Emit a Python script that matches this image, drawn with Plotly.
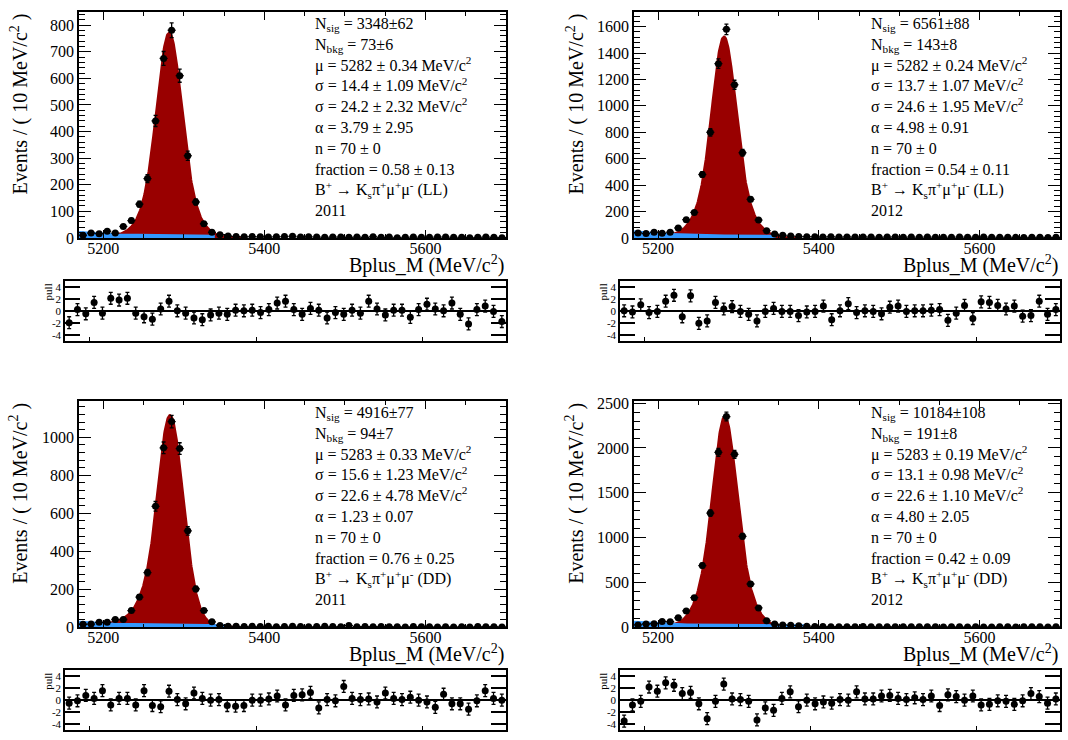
import numpy as np
import plotly.graph_objects as go

W, H = 1068, 740
FONT = "Liberation Serif"

# ---------------- data ----------------
bin_centers = np.arange(5175, 5700, 10)  # 53 bins of 10 MeV, 5170-5700

counts_ll_2011 = [10, 18, 16, 25, 18, 43, 65, 127, 223, 440, 675, 781, 610, 309, 135,
                  53, 21, 12, 7, 5, 4, 5, 4, 3, 4, 5, 6, 3, 4, 3, 2, 3, 3, 2, 3,
                  2, 4, 2, 3, 1, 2, 3, 2, 2, 3, 3, 2, 2, 1, 2, 3, 2, 1]
counts_ll_2012 = [38, 33, 43, 35, 43, 75, 138, 193, 480, 800, 1320, 1580, 1160, 645, 292,
                  135, 55, 30, 20, 14, 10, 9, 8, 7, 8, 6, 7, 6, 7, 6, 5, 6, 7, 5, 6,
                  5, 6, 5, 4, 5, 6, 5, 4, 6, 5, 4, 5, 4, 3, 4, 5, 3, 4]
counts_dd_2011 = [16, 17, 26, 26, 41, 41, 88, 159, 288, 637, 945, 1083, 941, 508, 202,
                  88, 29, 10, 6, 5, 4, 5, 4, 5, 3, 4, 5, 4, 3, 4, 5, 4, 3, 9, 3,
                  4, 3, 4, 3, 3, 2, 4, 3, 3, 2, 3, 2, 3, 2, 4, 3, 3, 2]
counts_dd_2012 = [26, 37, 40, 66, 62, 106, 183, 330, 688, 1274, 1951, 2350, 1929, 1014, 483,
                  216, 73, 37, 26, 22, 18, 12, 9, 8, 7, 6, 7, 6, 8, 6, 5, 6, 7, 6, 5,
                  6, 5, 6, 4, 6, 5, 4, 6, 4, 4, 5, 5, 4, 5, 6, 5, 4, 5]

pull_ll_2011 = [-2.0, 0.2, -0.5, 1.4, -0.4, 2.1, 1.8, 2.1, -0.4, -1.0, -1.4, 0.3, 1.6, 0.0, -0.4,
                -1.2, -1.5, -0.7, -0.4, -0.6, 0.1, 0.0, 0.1, -0.3, 0.2, 1.3, 1.6, 0.2, -0.6, 0.4,
                0.1, -1.2, -0.3, -0.6, 0.1, -0.4, 1.6, 0.3, -0.7, 0.1, 0.1, -1.1, 0.2, 1.1, 0.3,
                0.0, 1.3, -0.6, -2.2, 0.2, 0.8, -0.1, -1.8]
pull_ll_2012 = [0.0, -0.2, 1.0, -0.3, -0.1, 1.6, 2.6, -1.0, 2.5, -2.1, -1.7, 1.4, 0.3, 0.7, -0.1,
                -0.6, -1.7, -0.1, 0.4, -0.1, -0.1, -0.8, -0.2, -0.1, 0.8, -1.5, 0.0, 1.2, -0.3, 0.0,
                -0.1, -0.5, 0.6, 0.8, -0.1, 0.0, 0.0, 0.1, 0.2, -1.6, -0.4, 0.9, -1.3, 1.5, 1.4,
                0.9, 0.3, 0.8, -0.9, -0.8, 1.6, -0.6, 0.2]
pull_dd_2011 = [-0.5, -0.1, 0.8, 0.3, 1.6, -0.8, 0.3, 0.3, -0.8, 1.6, -0.9, -1.1, 1.5, 0.1, -0.6,
                1.2, 0.3, 0.0, 0.1, -0.9, -1.0, -0.9, 0.0, 0.0, 0.2, 0.7, -0.8, 0.8, 0.9, 1.3,
                -1.3, 0.1, -0.1, 2.3, 0.3, 0.1, 0.2, -0.3, 1.2, 0.3, 0.1, 0.5, 0.0, -0.3, -1.2,
                1.0, -0.6, -0.6, -1.5, -0.1, 1.6, 0.3, 0.0]
pull_dd_2012 = [-3.5, -0.8, -0.2, 2.2, 1.5, 2.9, 2.5, 1.1, 1.3, -0.6, -3.1, -0.2, 2.7, 0.2, 0.1,
                -0.2, -3.3, -1.3, -1.7, 0.3, 1.4, -1.1, 0.0, -0.6, -0.3, -0.5, 0.1, 0.0, 1.4, 0.2,
                0.2, 0.7, 0.8, 0.3, 0.1, 0.4, 0.1, 0.7, -0.9, 0.9, 0.6, 0.0, 0.7, -0.8, -0.7,
                -0.1, -0.2, -0.7, -0.1, 1.1, 0.6, -0.5, 0.2]

# fit parameters (from the legends)
n_sig = [3348, 6561, 4916, 10184]
n_sig_err = [62, 88, 77, 108]
n_bkg = [73, 143, 94, 191]
n_bkg_err = [6, 8, 7, 8]
mu = [5282, 5282, 5283, 5283]
mu_err = ["0.34", "0.24", "0.33", "0.19"]
sigma1 = [14.4, 13.7, 15.6, 13.1]
sigma1_err = ["1.09", "1.07", "1.23", "0.98"]
sigma2 = [24.2, 24.6, 22.6, 22.6]
sigma2_err = ["2.32", "1.95", "4.78", "1.10"]
alpha = [3.79, 4.98, 1.23, 4.80]
alpha_err = ["2.95", "0.91", "0.07", "2.05"]
n_cb = [70, 70, 70, 70]
fraction = [0.58, 0.54, 0.76, 0.42]
fraction_err = ["0.13", "0.11", "0.25", "0.09"]
bkg_slope = [0.020, 0.024, 0.020, 0.020]  # exponential background decay (1/MeV), estimated
track = ["LL", "LL", "DD", "DD"]
year = ["2011", "2012", "2011", "2012"]

counts = [counts_ll_2011, counts_ll_2012, counts_dd_2011, counts_dd_2012]
pulls = [pull_ll_2011, pull_ll_2012, pull_dd_2011, pull_dd_2012]

x_lo, x_hi, bin_w = 5170, 5700, 10
curve_floor = 0.5  # curves are not drawn where they fall below this (events / bin)

# ---------------- layout geometry (pixels) ----------------
col_main_x0 = [79, 634]
col_pull_x0 = [65, 620]
col_x1 = [506, 1060]
row_main = [(5, 236), (403, 634)]
row_pull = [(280, 341), (678, 739)]
y_max = [850, 1712, 1190, 2520]
y_dtick = [100, 200, 200, 500]
y_minor = [20, 40, 40, 100]


def xd(a, b):
    return [a / W, b / W]


def yd(top, bottom):
    return [1 - bottom / H, 1 - top / H]


def cb_shape(x, m, s, a, n):
    t = (x - m) / s
    out = np.exp(-0.5 * t ** 2)
    logA = n * np.log(n / a) - 0.5 * a * a
    B = n / a - a
    tail = t < -a
    out[tail] = np.exp(logA - n * np.log(B - t[tail]))
    return out


grid = np.linspace(x_lo, x_hi, 1061)

fig = go.Figure()
annotations = []
layout = {}

for i in range(4):
    col, row = i % 2, i // 2
    ax_m, ax_p = 2 * i + 1, 2 * i + 2
    xm, ym = f"x{ax_m}", f"y{ax_m}"
    xp, yp = f"x{ax_p}", f"y{ax_p}"

    # fit model built from the legend parameters
    c1 = cb_shape(grid, mu[i], sigma1[i], alpha[i], n_cb[i])
    c2 = cb_shape(grid, mu[i], sigma2[i], alpha[i], n_cb[i])
    c1 /= np.trapezoid(c1, grid)
    c2 /= np.trapezoid(c2, grid)
    sig = fraction[i] * c1 + (1 - fraction[i]) * c2
    bk = np.exp(-bkg_slope[i] * (grid - x_lo))
    bk /= np.trapezoid(bk, grid)
    sig_y = n_sig[i] * bin_w * sig
    bkg_y = n_bkg[i] * bin_w * bk
    tot_y = sig_y + bkg_y

    mt_ = tot_y >= curve_floor
    mb_ = bkg_y >= curve_floor
    fig.add_trace(go.Scatter(x=grid[mt_], y=tot_y[mt_], mode="lines", fill="tozeroy",
                             line=dict(color="#990000", width=2.5), fillcolor="#990000",
                             xaxis=xm, yaxis=ym, hoverinfo="skip", showlegend=False))
    fig.add_trace(go.Scatter(x=grid[mb_], y=bkg_y[mb_], mode="lines", fill="tozeroy",
                             line=dict(color="#3399ff", width=6), fillcolor="#3399ff",
                             xaxis=xm, yaxis=ym, hoverinfo="skip", showlegend=False))
    cnt = np.array(counts[i], dtype=float)
    fig.add_trace(go.Scatter(x=bin_centers, y=cnt, mode="markers",
                             marker=dict(color="black", size=7),
                             error_y=dict(type="data", array=np.sqrt(cnt), color="black",
                                          thickness=1.3, width=2),
                             error_x=dict(type="constant", value=bin_w / 2, color="black",
                                          thickness=1.3, width=0),
                             xaxis=xm, yaxis=ym, showlegend=False))
    fig.add_trace(go.Scatter(x=bin_centers, y=pulls[i], mode="markers",
                             marker=dict(color="black", size=7),
                             error_y=dict(type="constant", value=1.0, color="black",
                                          thickness=1.3, width=2),
                             xaxis=xp, yaxis=yp, showlegend=False))

    mt, mb = row_main[row]
    pt, pb = row_pull[row]
    common_x = dict(range=[x_lo, x_hi], showline=True, linecolor="black", linewidth=1.5,
                    showgrid=False, zeroline=False)
    layout[f"xaxis{ax_m}"] = dict(
        common_x, domain=xd(col_main_x0[col], col_x1[col]), anchor=ym, mirror="allticks",
        ticks="inside", ticklen=8, tickwidth=1, tickcolor="black", ticklabelstandoff=-5,
        tickvals=[5200, 5400, 5600], ticktext=["5200", "5400", "5600"],
        minor=dict(dtick=50, tick0=5200, ticks="inside", ticklen=4, tickcolor="black"),
        tickfont=dict(family=FONT, size=16, color="black"))
    layout[f"yaxis{ax_m}"] = dict(
        domain=yd(mt, mb), anchor=xm, range=[0, y_max[i]],
        showline=True, linecolor="black", linewidth=1.5, mirror="allticks",
        showgrid=False, zeroline=False,
        ticks="inside", ticklen=12, tickcolor="black", dtick=y_dtick[i], tick0=0,
        minor=dict(dtick=y_minor[i], ticks="inside", ticklen=6, tickcolor="black"),
        tickfont=dict(family=FONT, size=16, color="black"))
    layout[f"xaxis{ax_p}"] = dict(
        common_x, domain=xd(col_pull_x0[col], col_x1[col]), anchor=yp, mirror=True,
        ticks="inside", ticklen=4, tickcolor="black", tickvals=[5200, 5400, 5600],
        showticklabels=False)
    layout[f"yaxis{ax_p}"] = dict(
        domain=yd(pt, pb), anchor=xp, range=[-5, 5],
        showline=True, linecolor="black", linewidth=1.5, mirror="allticks",
        showgrid=False, zeroline=True, zerolinecolor="black", zerolinewidth=1.5,
        ticks="inside", ticklen=15, tickwidth=2, tickcolor="black",
        tickvals=[-4, -2, 0, 2, 4], ticktext=["-4", "-2", "0", "2", "4"],
        tickfont=dict(family=FONT, size=11, color="black"))

    # axis titles
    ytitle_x = [19, 575][col]
    annotations.append(dict(
        text="Events / ( 10 MeV/c<sup>2</sup> )", textangle=-90, xref="paper", yref="paper",
        x=ytitle_x / W, y=1 - mt / H, xanchor="center", yanchor="top", showarrow=False,
        font=dict(family=FONT, size=20, color="black")))
    annotations.append(dict(
        text="Bplus_M (MeV/c<sup>2</sup>)", xref="paper", yref="paper",
        x=col_x1[col] / W, y=1 - (mb + 42) / H, xanchor="right", yanchor="bottom",
        showarrow=False, font=dict(family=FONT, size=20, color="black")))
    pull_lab_x = [48, 603][col]
    annotations.append(dict(
        text="pull", textangle=-90, xref="paper", yref="paper",
        x=pull_lab_x / W, y=1 - (pt + 1) / H, xanchor="center", yanchor="top",
        showarrow=False, font=dict(family=FONT, size=11, color="black")))

    # fit-result text block
    lines = [
        f"N<sub>sig</sub> = {n_sig[i]}±{n_sig_err[i]}",
        f"N<sub>bkg</sub> = {n_bkg[i]}±{n_bkg_err[i]}",
        f"μ = {mu[i]} ± {mu_err[i]} MeV/c<sup>2</sup>",
        f"σ = {sigma1[i]:.1f} ± {sigma1_err[i]} MeV/c<sup>2</sup>",
        f"σ = {sigma2[i]:.1f} ± {sigma2_err[i]} MeV/c<sup>2</sup>",
        f"α = {alpha[i]:.2f} ± {alpha_err[i]}",
        f"n = {n_cb[i]} ± 0",
        f"fraction = {fraction[i]:.2f} ± {fraction_err[i]}",
        f"B<sup>+</sup> → K<sub>s</sub>π<sup>+</sup>μ<sup>+</sup>μ<sup>-</sup> ({track[i]})",
        year[i],
    ]
    tx = [313, 869][col]
    annotations.append(dict(
        text="<br>".join(lines), xref="paper", yref="paper", x=tx / W, y=1 - (mt + 1) / H,
        xanchor="left", yanchor="top", align="left", showarrow=False,
        font=dict(family=FONT, size=16, color="black")))

fig.update_layout(**layout)
fig.update_layout(width=W, height=H, margin=dict(l=0, r=0, t=0, b=0),
                  paper_bgcolor="white", plot_bgcolor="white",
                  annotations=annotations,
                  font=dict(family=FONT, color="black"), showlegend=False)

fig.write_html("out.html")
